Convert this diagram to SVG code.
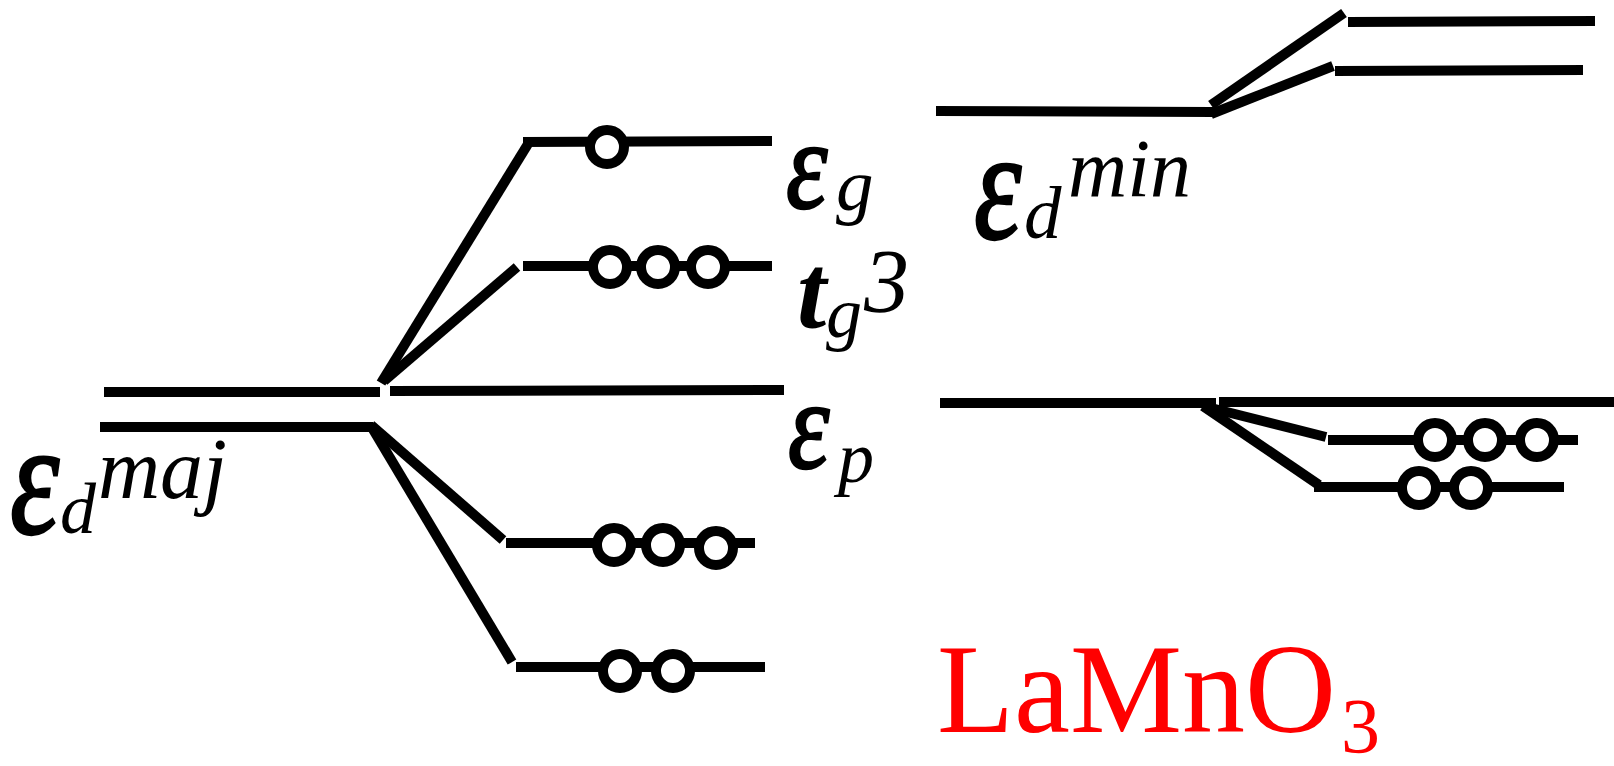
<svg xmlns="http://www.w3.org/2000/svg" width="1614" height="766" viewBox="0 0 1614 766">
<style>
.lv{stroke:#000;stroke-width:10;fill:none}
.el{stroke:#000;stroke-width:10;fill:#fff}
.sym{font-family:"Liberation Serif","Times New Roman",serif;font-style:italic;fill:#000;stroke:#000;stroke-width:2}
.tb{font-family:"Liberation Serif","Times New Roman",serif;font-style:italic;font-weight:bold;fill:#000}
.sub{font-family:"Liberation Serif","Times New Roman",serif;font-style:italic;fill:#000}
.red{font-family:"Liberation Serif","Times New Roman",serif;fill:#ff0000}
</style>
<rect width="1614" height="766" fill="#fff"/>
<g id="connectors" class="lv">
<line x1="381" y1="383" x2="528" y2="144"/>
<line x1="384" y1="381" x2="517" y2="267"/>
<line x1="371" y1="425" x2="503" y2="540"/>
<line x1="371" y1="426" x2="512" y2="662"/>
<line x1="1211" y1="105" x2="1344" y2="13"/>
<line x1="1211" y1="114" x2="1333" y2="66"/>
<line x1="1203" y1="406" x2="1326" y2="437"/>
<line x1="1203" y1="406" x2="1319" y2="485"/>
</g>
<g id="maj-d-level" class="lv">
<line x1="104" y1="392" x2="380" y2="392"/>
<line x1="100" y1="427" x2="373" y2="427"/>
</g>
<g id="p-level" class="lv">
<line x1="390" y1="391" x2="784" y2="390"/>
</g>
<g id="maj-eg-level">
<line class="lv" x1="523" y1="142" x2="772" y2="141"/>
<circle class="el" cx="607" cy="147" r="17"/>
</g>
<g id="maj-t2g-level">
<line class="lv" x1="523" y1="266" x2="772" y2="266"/>
<circle class="el" cx="610" cy="267" r="17"/>
<circle class="el" cx="658" cy="267" r="17"/>
<circle class="el" cx="708" cy="267" r="17"/>
</g>
<g id="maj-low1-level">
<line class="lv" x1="506" y1="543" x2="755" y2="543"/>
<circle class="el" cx="614" cy="545" r="17"/>
<circle class="el" cx="663" cy="545" r="17"/>
<circle class="el" cx="716" cy="548" r="17"/>
</g>
<g id="maj-low2-level">
<line class="lv" x1="516" y1="667" x2="765" y2="667"/>
<circle class="el" cx="620" cy="671" r="17"/>
<circle class="el" cx="673" cy="671" r="17"/>
</g>
<g id="min-d-level" class="lv">
<line x1="936" y1="111" x2="1213" y2="112"/>
</g>
<g id="min-up1-level" class="lv">
<line x1="1348" y1="22" x2="1595" y2="21"/>
</g>
<g id="min-up2-level" class="lv">
<line x1="1335" y1="71" x2="1583" y2="70"/>
</g>
<g id="min-p-level" class="lv">
<line x1="940" y1="403" x2="1216" y2="403"/>
<line x1="1219" y1="402" x2="1614" y2="402"/>
</g>
<g id="min-low1-level">
<line class="lv" x1="1328" y1="440" x2="1578" y2="440"/>
<circle class="el" cx="1435" cy="440" r="17"/>
<circle class="el" cx="1485" cy="440" r="17"/>
<circle class="el" cx="1537" cy="440" r="17"/>
</g>
<g id="min-low2-level">
<line class="lv" x1="1314" y1="487" x2="1564" y2="487"/>
<circle class="el" cx="1419" cy="488" r="17"/>
<circle class="el" cx="1471" cy="488" r="17"/>
</g>
<g id="label-maj">
<text class="sym" transform="translate(10,533) scale(1,1.3)" font-size="125">ε</text>
<text class="sub" x="60" y="533" font-size="72">d</text>
<text class="sub" x="98" y="498" font-size="86">maj</text>
</g>
<g id="label-eg">
<text class="sym" transform="translate(786,208) scale(1,1.2)" font-size="105">ε</text>
<text class="sub" x="836" y="210" font-size="75">g</text>
</g>
<g id="label-t2g">
<text class="tb" x="797" y="327" font-size="105">t</text>
<text class="sub" x="826" y="337" font-size="72">g</text>
<text class="sub" x="864" y="312" font-size="90">3</text>
</g>
<g id="label-p">
<text class="sym" transform="translate(788,468) scale(1,1.2)" font-size="105">ε</text>
<text class="sub" x="838" y="482" font-size="72">p</text>
</g>
<g id="label-min">
<text class="sym" transform="translate(974,238) scale(1,1.3)" font-size="120">ε</text>
<text class="sub" x="1024" y="238" font-size="75">d</text>
<text class="sub" x="1068" y="196" font-size="82">min</text>
</g>
<g id="label-compound">
<text class="red" x="937" y="732" font-size="126">LaMnO</text>
<text class="red" x="1341" y="752" font-size="78">3</text>
</g>
</svg>
